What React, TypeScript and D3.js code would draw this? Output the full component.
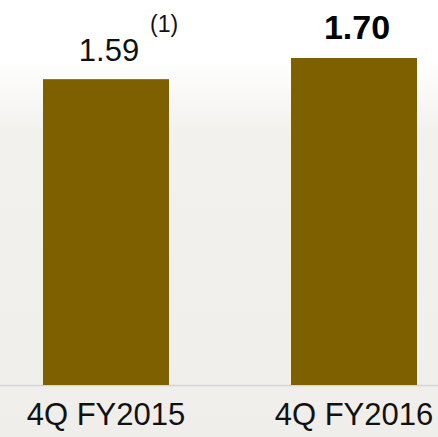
import React from "react";
import * as d3 from "d3";

const categories = ["4Q FY2015", "4Q FY2016"];
const values = [1.59, 1.7];
const valueLabels = ["1.59", "1.70"];
const footnotes = ["(1)", ""];

const W = 438;
const H = 437;

const App = () => {
  const margin = { top: 58, right: 21, bottom: 52, left: 43 };
  const baseline = H - margin.bottom;

  const x = d3
    .scaleBand()
    .domain(categories)
    .range([margin.left, W - margin.right])
    .paddingInner(0.492)
    .paddingOuter(0);

  const y = d3.scaleLinear().domain([0, 1.7]).range([baseline, margin.top]);

  const font = "Arial, 'Liberation Sans', sans-serif";

  return (
    <svg
      width={W}
      height={H}
      style={{ position: "absolute", left: 0, top: 0 }}
      fontFamily={font}
    >
      <defs>
        <linearGradient id="bg" x1="0" y1="0" x2="0" y2="1">
          <stop offset="0" stopColor="#ffffff" />
          <stop offset="0.14" stopColor="#ffffff" />
          <stop offset="0.3" stopColor="#f3f1ee" />
          <stop offset="1" stopColor="#f0eeeb" />
        </linearGradient>
      </defs>
      <rect x={0} y={0} width={W} height={H} fill="url(#bg)" />

      {/* axis line */}
      <line x1={0} x2={W} y1={baseline + 0.5} y2={baseline + 0.5} stroke="#d4d4d4" strokeWidth={1.5} />

      {categories.map((c, i) => {
        const bx = x(c) as number;
        const cx = bx + x.bandwidth() / 2;
        const bold = i === 1;
        return (
          <g key={c}>
            <rect
              x={bx}
              y={y(values[i])}
              width={x.bandwidth()}
              height={baseline - y(values[i])}
              fill="#7f6000"
            />
            <text
              x={cx + 3}
              y={y(values[i]) - (bold ? 19 : 18)}
              textAnchor="middle"
              fontSize={bold ? 34 : 31}
              fontWeight={bold ? "bold" : "normal"}
              fill={bold ? "#000" : "#111"}
            >
              {valueLabels[i]}
            </text>
            {footnotes[i] && (
              <text x={cx + 44} y={y(values[i]) - 47} fontSize={23} fill="#111">
                {footnotes[i]}
              </text>
            )}
            <text x={cx} y={baseline + 40} textAnchor="middle" fontSize={31} fill="#111">
              {c}
            </text>
          </g>
        );
      })}
    </svg>
  );
};

export default App;
